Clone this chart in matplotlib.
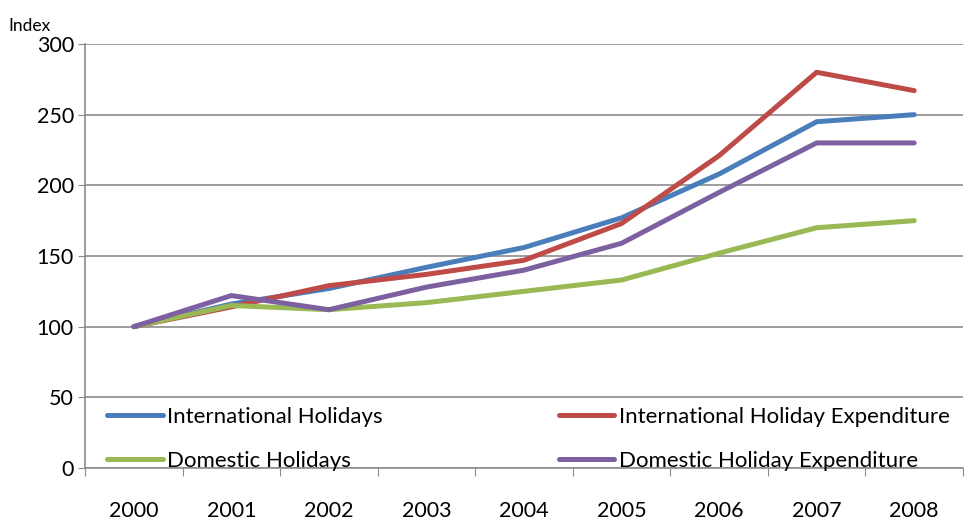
import matplotlib.pyplot as plt
import numpy as np

plt.rcParams["font.family"] = ["Lato", "DejaVu Sans"]

years = ["2000", "2001", "2002", "2003", "2004", "2005", "2006", "2007", "2008"]

intl_holidays = [100, 116, 127, 142, 156, 177, 208, 245, 250]
intl_expenditure = [100, 114, 129, 137, 147, 173, 221, 280, 267]
dom_holidays = [100, 115, 112, 117, 125, 133, 152, 170, 175]
dom_expenditure = [100, 122, 112, 128, 140, 159, 195, 230, 230]

fig = plt.figure(figsize=(9.74, 5.2), dpi=100)
ax = fig.add_axes([0.0873, 0.1, 0.9014, 0.8154])

x = np.arange(len(years))
lw = 3.6
l1, = ax.plot(x, intl_holidays, color="#4A7EBB", lw=lw, solid_capstyle="round", label="International Holidays")
l2, = ax.plot(x, intl_expenditure, color="#BE4B48", lw=lw, solid_capstyle="round", label="International Holiday Expenditure")
l3, = ax.plot(x, dom_holidays, color="#98B954", lw=lw, solid_capstyle="round", label="Domestic Holidays")
l4, = ax.plot(x, dom_expenditure, color="#7D60A0", lw=lw, solid_capstyle="round", label="Domestic Holiday Expenditure")

ax.set_xlim(-0.5, len(years) - 0.5)
ax.set_ylim(0, 300)
ax.set_yticks(range(0, 301, 50))
ax.yaxis.grid(True, color="#8c8c8c", lw=1.2)
ax.set_axisbelow(True)

ax.set_xticks(np.arange(-0.5, len(years), 1))
ax.set_xticklabels([])
ax.set_xticks(x, minor=True)
ax.set_xticklabels(years, minor=True)
ax.tick_params(axis="x", which="major", length=6, color="#8c8c8c", direction="out")
ax.tick_params(axis="x", which="minor", length=0, pad=24, labelsize=15.5)
ax.tick_params(axis="y", length=5, color="#8c8c8c", labelsize=15.5, pad=3)

for side in ["top", "right"]:
    ax.spines[side].set_visible(False)
ax.spines["left"].set_color("#8c8c8c")
ax.spines["bottom"].set_color("#8c8c8c")
ax.spines["left"].set_linewidth(1.2)
ax.spines["bottom"].set_linewidth(1.2)

ax.legend([l1, l3, l2, l4], [l.get_label() for l in [l1, l3, l2, l4]],
          loc="lower left", bbox_to_anchor=(0.015, -0.027, 0.98, 0.2), ncol=2, mode="expand",
          frameon=False, fontsize=16, handlelength=2.5, handletextpad=0.2,
          borderaxespad=0.0, labelspacing=1.07, columnspacing=1.0)

fig.text(0.009, 0.94, "Index", fontsize=12.5)

fig.savefig("out.png", dpi=100)
